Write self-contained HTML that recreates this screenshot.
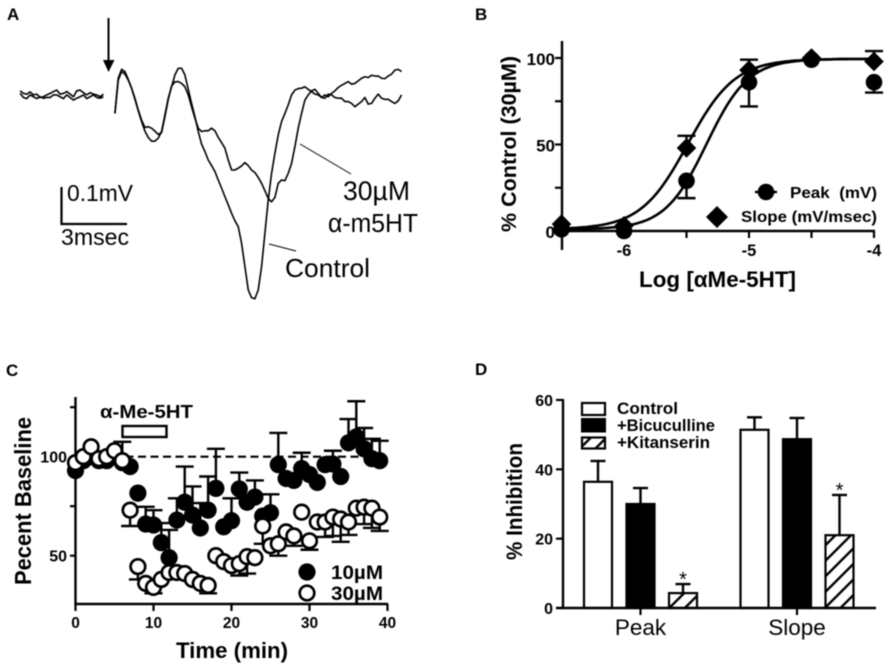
<!DOCTYPE html>
<html lang="en">
<head>
<meta charset="utf-8">
<title>Alpha-methyl-5HT effects on field potentials</title>
<style>
html,body{margin:0;padding:0;background:#fff;width:892px;height:672px;overflow:hidden}
svg{display:block;font-family:"Liberation Sans",Arial,sans-serif;fill:#000;filter:blur(.45px)}
.b{font-weight:bold}
</style>
</head>
<body>
<svg id="fig" width="892" height="672" viewBox="0 0 892 672">
<defs>
<pattern id="hatch" patternUnits="userSpaceOnUse" width="11" height="11" patternTransform="rotate(-45)">
<rect width="11" height="11" fill="#fff"/>
<rect y="0" width="11" height="2.4" fill="#000"/>
</pattern>
</defs>

<text class="b" x="7" y="20" font-size="17">A</text>
<text class="b" x="475" y="20" font-size="17">B</text>
<text class="b" x="6" y="376" font-size="17">C</text>
<text class="b" x="475" y="375" font-size="17">D</text>

<g id="panelA">
<line x1="108.5" y1="18" x2="108.5" y2="62" stroke="#000" stroke-width="2"/>
<polygon points="103,60 114.5,60 108.5,72" fill="#000"/>
<path d="M61.5 187V224H127" fill="none" stroke="#000" stroke-width="2.2"/>
<text x="67" y="201" font-size="23" textLength="66" lengthAdjust="spacingAndGlyphs">0.1mV</text>
<text x="61" y="245" font-size="23" textLength="68" lengthAdjust="spacingAndGlyphs">3msec</text>
<line x1="300" y1="144" x2="351" y2="174" stroke="#000" stroke-width="1"/>
<line x1="269" y1="244" x2="296" y2="251" stroke="#000" stroke-width="1"/>
<text x="343" y="200" font-size="26.5" textLength="67" lengthAdjust="spacingAndGlyphs">30µM</text>
<text x="328" y="232" font-size="25.5" textLength="90" lengthAdjust="spacingAndGlyphs">α-m5HT</text>
<text x="285" y="277" font-size="26" textLength="85" lengthAdjust="spacingAndGlyphs">Control</text>
</g>

<g id="panelB">
<text class="b" transform="translate(516,232) rotate(-90)" font-size="21.5" textLength="176" lengthAdjust="spacingAndGlyphs">% Control (30µM)</text>
<text class="b" x="639" y="287" font-size="22.5" textLength="157" lengthAdjust="spacingAndGlyphs">Log [αMe-5HT]</text>
<text class="b" x="790" y="198" font-size="16" textLength="87" lengthAdjust="spacingAndGlyphs" xml:space="preserve">Peak  (mV)</text>
<text class="b" x="741" y="222" font-size="16" textLength="136" lengthAdjust="spacingAndGlyphs">Slope (mV/msec)</text>
</g>

<g id="panelC">
<text class="b" transform="translate(31,585) rotate(-90)" font-size="23" textLength="168" lengthAdjust="spacingAndGlyphs">Pecent Baseline</text>
<text class="b" x="176" y="658" font-size="22" textLength="112" lengthAdjust="spacingAndGlyphs">Time (min)</text>
<text class="b" x="100" y="418" font-size="18.5" textLength="93" lengthAdjust="spacingAndGlyphs">α-Me-5HT</text>
<rect x="122.5" y="426" width="44" height="11" fill="#fff" stroke="#000" stroke-width="2.4"/>
</g>

<g id="panelD">
<text class="b" transform="translate(522,560) rotate(-90)" font-size="22" textLength="117" lengthAdjust="spacingAndGlyphs">% Inhibition</text>
<rect x="582" y="403" width="23" height="12" fill="#fff" stroke="#000" stroke-width="2.2"/>
<rect x="581" y="418" width="25" height="14.5" fill="#000"/>
<rect x="582" y="437.5" width="23" height="11" fill="url(#hatch)" stroke="#000" stroke-width="2.2"/>
<text class="b" x="617" y="414" font-size="17" textLength="61" lengthAdjust="spacingAndGlyphs">Control</text>
<text class="b" x="617" y="431" font-size="17" textLength="98" lengthAdjust="spacingAndGlyphs">+Bicuculline</text>
<text class="b" x="617" y="448" font-size="17" textLength="93" lengthAdjust="spacingAndGlyphs">+Kitanserin</text>
</g>
</svg>

<script>
// ---- Panel A: traces, sampled at a fixed interval (values in microvolts) ----
const traceStartMs = 4.36;
const traceStepMs = 0.1515;
const baselineStartMs = 0.05;
const baselineA = [14,7,5,11,3,5,-4,-2,3,7,12,16,5,7,12,5,-2,14,16,9,3,9,5,3,-2,5];
const baselineB = [7,-4,-7,3,-2,-7,-2,-6,-4,-4,3,3,-2,-7,3,-4,-11,-6,-2,3,-7,-2,3,-4,-6,-2];
const controlTrace = [-47,48,72,66,45,21,-9,-40,-69,-95,-112,-122,-122,-114,-96,-51,-6,25,57,75,75,57,18,-20,-56,-96,-130,-150,-173,-188,-204,-227,-249,-272,-294,-317,-337,-353,-398,-461,-524,-545,-548,-524,-461,-371,-281,-209,-155,-105,-69,-47,-24,3,16,20,21,25,18,12,5,3,-4,3,-2,7,14,23,29,34,39,32,34,41,48,52,50,56,54,54,48,47,54,59,70,72,66];
const drugTrace = [-47,43,66,59,43,21,-6,-38,-65,-85,-83,-87,-95,-104,-99,-56,-9,27,38,39,34,25,3,-29,-60,-87,-96,-94,-94,-87,-94,-112,-126,-141,-173,-200,-200,-195,-189,-180,-188,-200,-207,-220,-236,-256,-277,-286,-274,-236,-227,-229,-209,-182,-137,-87,-47,-11,3,14,18,7,-4,-6,5,3,-4,-6,-6,-15,-15,-20,-29,-22,-15,-4,-22,-20,-6,5,-6,-9,-9,-15,-20,-13,3];

// ---- Panel B ----
const logDose = [-6.5,-6,-5.5,-5,-4.5,-4];
const peakValues = [1,0,29,86,99,86];
const peakErrEnd = [null,null,19,72,null,80];
const slopeValues = [4,3,48,93,100,98];
const slopeErrEnd = [null,null,55,99,null,104];
const peakFit = [-5.34,2.6];   // log EC50, Hill
const slopeFit = [-5.49,2.3];  // log EC50, Hill
const bYTicks = [0,25,50,75,100];
const bYLabels = ['0','','50','','100'];
const bXTicks = [-6,-5.5,-5,-4.5,-4];
const bXLabels = ['-6','','-5','','-4'];

// ---- Panel C ----
const minutes = [0,1,2,3,4,5,6,7,8,9,10,11,12,13,14,15,16,17,18,19,20,21,22,23,24,25,26,27,28,29,30,31,32,33,34,35,36,37,38,39];
const tenMicro = [93,98,100,98,98,100,97,95,81.6,66,65.5,56.6,49,68,77,70.5,64,73,84,64.6,67.7,83.7,77,79.6,70,71.7,96,89,88,94,91,87,96,96.3,90,107,110,104,99,98];
const tenMicroErrEnd = [null,null,null,null,null,null,107.5,null,null,74.7,73,66.5,63,79,95,85,76.6,90,104,null,79,92,null,88,null,81,112,null,null,102,null,null,null,103,null,119,128,114.5,109,108];
const thirtyMicro = [97,100,105,99,100,103,98,73,44.5,36,34,38,41.5,41.5,41,38,36,35,50,47,45,46,49.5,49,65,55,56,62,60,72,57.5,67,67,69.5,68.5,67,74,74.5,74,69.5];
const thirtyMicroErrEnd = [null,null,null,null,null,null,null,65,38,null,31,null,null,null,null,null,null,31,null,null,null,40,41,null,56,null,50,null,55,null,53,null,59.5,60,57,60.5,null,66,64,62.5];
const cXTicks = [0,10,20,30,40];
const cYTicks = [50,75,100,125];
const cYLabels = ['50','','100',''];

// ---- Panel D ----
const groups = ['Peak','Slope'];
const conditions = ['control','bicuculline','kitanserin'];
const peakBars = [36.4,30,4.3];
const peakBarErr = [42.4,34.6,6.9];
const slopeBars = [51.4,48.7,21];
const slopeBarErr = [55,54.8,32.6];
const dYTicks = [0,20,40,60];

const NS = 'http://www.w3.org/2000/svg';
const gA = document.getElementById('panelA');
const gB = document.getElementById('panelB');
const gC = document.getElementById('panelC');
const gD = document.getElementById('panelD');
function mk(parent, tag, attrs, txt) {
  const el = document.createElementNS(NS, tag);
  for (const k in attrs) el.setAttribute(k, attrs[k]);
  if (txt !== undefined) el.textContent = txt;
  parent.appendChild(el);
  return el;
}
function seg(parent, x1, y1, x2, y2, w) {
  return mk(parent, 'line', {x1: x1, y1: y1, x2: x2, y2: y2, stroke: '#000', 'stroke-width': w});
}

// ---------- Panel A ----------
const ax = t => 19 + t * 22;
const ay = uv => 96 - uv * 0.37;
function tracePath(vals, start, step) {
  return vals.map((v, i) => (i ? 'L' : 'M') + ax(start + i * step).toFixed(2) + ' ' + ay(v).toFixed(2)).join('');
}
[[baselineA, baselineStartMs, 'baseline-trace-a'], [baselineB, baselineStartMs, 'baseline-trace-b'],
 [controlTrace, traceStartMs, 'control-trace'], [drugTrace, traceStartMs, 'drug-trace']].forEach(s => {
  const el = mk(gA, 'path', {d: tracePath(s[0], s[1], traceStepMs), fill: 'none', stroke: '#000', 'stroke-width': 1.6, 'stroke-linejoin': 'round'});
  
  
});

// ---------- Panel B ----------
const bx = d => 624 + (d + 6) * 125;
const by = v => 231 - v * 1.73;
const bYAxis = seg(gB, 562, 41, 562, 250, 2.4);


const bXAxis = seg(gB, 561, 231, 875, 231, 2.4);


bYTicks.forEach((v, i) => {
  const t = seg(gB, 555, by(v), 562, by(v), 2.2);
  
  
  if (bYLabels[i]) {
    const l = mk(gB, 'text', {x: 555, y: by(v) + 7, 'font-size': 17, 'font-weight': 'bold', 'text-anchor': 'end'}, bYLabels[i]);
    
    
  }
});
bXTicks.forEach((d, i) => {
  const t = seg(gB, bx(d), 231, bx(d), 238, 2.2);
  
  
  if (bXLabels[i]) {
    const l = mk(gB, 'text', {x: bx(d), y: 256, 'font-size': 16.5, 'font-weight': 'bold', 'text-anchor': 'middle'}, bXLabels[i]);
    
    
  }
});
function fitPath(fit) {
  let d = '';
  for (let x = -6.5; x <= -3.999; x += 0.02) {
    const y = 1 + 98.5 / (1 + Math.pow(10, (fit[0] - x) * fit[1]));
    d += (d ? 'L' : 'M') + bx(x).toFixed(1) + ' ' + by(y).toFixed(1);
  }
  return d;
}
const peakCurve = mk(gB, 'path', {d: fitPath(peakFit), fill: 'none', stroke: '#000', 'stroke-width': 2.6});


const slopeCurve = mk(gB, 'path', {d: fitPath(slopeFit), fill: 'none', stroke: '#000', 'stroke-width': 2.6});


function errB(d, val, end) {
  if (end === null) return;
  const s = seg(gB, bx(d), by(val), bx(d), by(end), 2.4);
  
  
  const c = seg(gB, bx(d) - 9, by(end), bx(d) + 9, by(end), 2.4);
  
  
}
function diamond(parent, x, y, r) {
  return mk(parent, 'polygon', {points: [x - r, y, x, y - r, x + r, y, x, y + r].join(' '), fill: '#000'});
}
logDose.forEach((d, i) => {
  errB(d, peakValues[i], peakErrEnd[i]);
  errB(d, slopeValues[i], slopeErrEnd[i]);
  const c = mk(gB, 'circle', {cx: bx(d), cy: by(peakValues[i]), r: 8.3, fill: '#000'});
  
  
  const m = diamond(gB, bx(d), by(slopeValues[i]), 9.8);
  
  
});
const legLine = seg(gB, 755, 192, 777, 192, 2.4);


const legCirc = mk(gB, 'circle', {cx: 766, cy: 192, r: 8.3, fill: '#000'});


const legDia = diamond(gB, 717, 217, 11);



// ---------- Panel C ----------
const cx = t => 75.5 + t * 7.8;
const cy = v => 456.7 - (v - 100) * 1.98;
const cYAxis = seg(gC, 75.5, 397, 75.5, 605, 2.4);


const cXAxis = seg(gC, 74.5, 604, 388, 604, 2.4);


cXTicks.forEach(t => {
  const k = seg(gC, cx(t), 604, cx(t), 611, 2.2);
  
  
  const l = mk(gC, 'text', {x: cx(t), y: 628, 'font-size': 15.5, 'font-weight': 'bold', 'text-anchor': 'middle'}, String(t));
  
  
});
cYTicks.forEach((v, i) => {
  const k = seg(gC, 70, cy(v), 75.5, cy(v), 2.2);
  
  
  if (cYLabels[i]) {
    const l = mk(gC, 'text', {x: 67, y: cy(v) + 6, 'font-size': 16, 'font-weight': 'bold', 'text-anchor': 'end'}, cYLabels[i]);
    
    
  }
});
const dashLine = mk(gC, 'line', {x1: cx(0), y1: cy(100), x2: 388, y2: cy(100), stroke: '#000', 'stroke-width': 2.2, 'stroke-dasharray': '8 4.5'});


function errC(t, val, end) {
  if (end === null) return;
  const s = seg(gC, cx(t), cy(val), cx(t), cy(end), 2.4);
  
  
  const c = seg(gC, cx(t) - 9, cy(end), cx(t) + 9, cy(end), 2.4);
  
  
}
minutes.forEach((t, i) => { errC(t, tenMicro[i], tenMicroErrEnd[i]); });
minutes.forEach((t, i) => {
  const c = mk(gC, 'circle', {cx: cx(t), cy: cy(tenMicro[i]), r: 8.6, fill: '#000'});
  
  
});
minutes.forEach((t, i) => { errC(t, thirtyMicro[i], thirtyMicroErrEnd[i]); });
minutes.forEach((t, i) => {
  const c = mk(gC, 'circle', {cx: cx(t), cy: cy(thirtyMicro[i]), r: 7.3, fill: '#fff', stroke: '#000', 'stroke-width': 2.7});
  
  
});
const leg10 = mk(gC, 'circle', {cx: 307, cy: 572, r: 8.6, fill: '#000'});


const leg30 = mk(gC, 'circle', {cx: 307, cy: 593, r: 7.3, fill: '#fff', stroke: '#000', 'stroke-width': 2.7});


const legT10 = mk(gC, 'text', {x: 331, y: 579, 'font-size': 19.5, 'font-weight': 'bold', textLength: 52, lengthAdjust: 'spacingAndGlyphs'}, '10µM');


const legT30 = mk(gC, 'text', {x: 331, y: 600, 'font-size': 19.5, 'font-weight': 'bold', textLength: 52, lengthAdjust: 'spacingAndGlyphs'}, '30µM');



// ---------- Panel D ----------
const dy = v => 608 - v * 3.467;
const groupCenter = [640.5, 797];
const barOffset = [-42.5, 0, 42.5];
const barWidth = 28;
const dYAxis = seg(gD, 563, 399, 563, 609, 2.4);


const barSets = [[peakBars, peakBarErr], [slopeBars, slopeBarErr]];
dYTicks.forEach(v => {
  const k = seg(gD, 556, dy(v), 563, dy(v), 2.2);
  
  
  const l = mk(gD, 'text', {x: 553, y: dy(v) + 6, 'font-size': 16, 'font-weight': 'bold', 'text-anchor': 'end'}, String(v));
  
  
});
const fills = ['#fff', '#000', 'url(#hatch)'];
barSets.forEach((set, g) => {
  conditions.forEach((c, i) => {
    const x = groupCenter[g] + barOffset[i];
    const e = seg(gD, x, dy(set[0][i]), x, dy(set[1][i]), 2.4);
    
    
    const cap = seg(gD, x - 7.5, dy(set[1][i]), x + 7.5, dy(set[1][i]), 2.4);
    
    
    const r = mk(gD, 'rect', {x: x - barWidth / 2, y: dy(set[0][i]), width: barWidth, height: 608 - dy(set[0][i]), fill: fills[i], stroke: '#000', 'stroke-width': 2.2});
    
    
    if (i === 2) {
      const s = mk(gD, 'text', {x: x, y: dy(set[1][i]) + 2, 'font-size': 20, 'text-anchor': 'middle'}, '*');
      
      
    }
  });
  const k = seg(gD, groupCenter[g], 608, groupCenter[g], 615, 2.2);
  
  
  const l = mk(gD, 'text', {x: groupCenter[g], y: 635, 'font-size': 22.5, 'text-anchor': 'middle'}, groups[g]);
  
  
});
const dXAxis = seg(gD, 556, 608, 876, 608, 2.6);


</script>
</body>
</html>
